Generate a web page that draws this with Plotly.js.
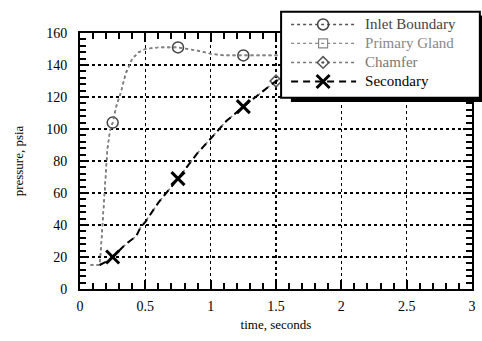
<!DOCTYPE html>
<html>
<head>
<meta charset="utf-8">
<script src="https://cdn.plot.ly/plotly-3.0.1.min.js"></script>
<style>
  html, body { margin: 0; padding: 0; background: #fff; }
  #chart { width: 482px; height: 341px; }
</style>
</head>
<body>
<div id="chart"></div>
<script>
// Pressure traces vs time (seconds)
const inletT = [0.08, 0.15, 0.16, 0.17, 0.19, 0.21, 0.23, 0.25, 0.28, 0.31, 0.35, 0.4, 0.45, 0.5, 0.6, 0.75, 0.9, 1.0, 1.1, 1.25, 1.5, 2.0, 2.5, 3.0];
const inletP = [15, 15, 25, 38, 66, 88, 99, 104, 115, 122, 135, 144, 148, 150, 151, 151, 149, 147, 146, 146, 146, 146, 146, 146];
const inletMarkT = [0.25, 0.75, 1.25, 1.75, 2.25, 2.75];
const inletMarkP = [104, 151, 146, 146, 146, 146];

const glandT = [0.08, 0.15, 0.16, 0.17, 0.19, 0.21, 0.23, 0.25, 0.28, 0.31, 0.35, 0.4, 0.45, 0.5, 0.6, 0.75, 0.9, 1.0, 1.1, 1.25, 1.5, 2.0, 2.5, 3.0];
const glandP = [15, 15, 24, 37, 65, 87, 99, 104, 114, 122, 134, 144, 148, 150, 151, 151, 149, 147, 146, 146, 146, 146, 146, 146];
const glandMarkT = [2.0, 2.5];
const glandMarkP = [146, 146];

const chamferT = [0.15, 0.2, 0.25, 0.3, 0.35, 0.43, 0.46, 0.5, 0.6, 0.75, 0.9, 1.0, 1.08, 1.12, 1.25, 1.5, 1.75, 2.0, 2.5, 3.0];
const chamferP = [15, 17, 20, 24, 28, 33, 38, 42, 54, 69, 85, 94, 101, 105, 114, 130, 140, 145, 148, 149];
const chamferMarkT = [1.5, 2.0, 2.5];
const chamferMarkP = [130, 145, 148];

const secT = [0.15, 0.2, 0.25, 0.3, 0.35, 0.43, 0.46, 0.5, 0.6, 0.75, 0.9, 1.0, 1.08, 1.12, 1.25, 1.5, 1.75, 2.0, 2.5, 3.0];
const secP = [15, 17, 20, 24, 28, 33, 38, 42, 54, 69, 85, 94, 101, 105, 114, 130, 140, 145, 148, 149];
const secMarkT = [0.25, 0.75, 1.25, 1.75, 2.25, 2.75];
const secMarkP = [20, 69, 114, 141, 147, 149];

const xTickVals = [0, 0.5, 1, 1.5, 2, 2.5, 3];
const xTickText = ['0', '0.5', '1', '1.5', '2', '2.5', '3'];
const yTickVals = [0, 20, 40, 60, 80, 100, 120, 140, 160];

const serif = 'Liberation Serif';

const series = [
  { name: 'Inlet Boundary', text: '#444', t: inletT, p: inletP, mt: inletMarkT, mp: inletMarkP,
    line: { color: '#555', width: 1.6, dash: 'dot' }, sym: 'circle-open', ms: 11, mc: '#444', mw: 1.5 },
  { name: 'Primary Gland', text: '#888', t: glandT, p: glandP, mt: glandMarkT, mp: glandMarkP,
    line: { color: '#888', width: 1.2, dash: 'dot' }, sym: 'square-open', ms: 9, mc: '#888', mw: 1.2 },
  { name: 'Chamfer', text: '#777', t: chamferT, p: chamferP, mt: chamferMarkT, mp: chamferMarkP,
    line: { color: '#777', width: 1.5, dash: 'dot' }, sym: 'diamond-open-dot', ms: 9, mc: '#555', mw: 1.5 },
  { name: 'Secondary', text: '#000', t: secT, p: secP, mt: secMarkT, mp: secMarkP,
    line: { color: '#000', width: 2, dash: '7px,5px' }, sym: 'x-thin-open', ms: 13, mc: '#000', mw: 3 }
];

const traces = [];
series.forEach(s => {
  traces.push({ x: s.t, y: s.p, type: 'scatter', mode: 'lines', line: s.line,
    showlegend: false, hoverinfo: 'skip' });
  traces.push({ x: s.mt, y: s.mp, type: 'scatter', mode: 'markers', showlegend: false,
    marker: { symbol: s.sym, size: s.ms, color: s.mc, line: { color: s.mc, width: s.mw } } });
  // legend entry: text size set on the span, row height driven by legend.font.size
  traces.push({ x: [null], y: [null], type: 'scatter', mode: 'lines+markers',
    name: '<span style="color:' + s.text + ';font-size:15px">' + s.name + '</span>',
    line: s.line,
    marker: { symbol: s.sym, size: s.ms, color: s.mc, line: { color: s.mc, width: s.mw } } });
});

const axisCommon = {
  showline: true, linecolor: '#000', linewidth: 2, mirror: 'ticks',
  ticks: 'inside', ticklen: 9, tickwidth: 2, tickcolor: '#000',
  showgrid: true, gridcolor: '#000', gridwidth: 1.5, griddash: 'dot',
  zeroline: false,
  tickfont: { family: serif, size: 14, color: '#000' }
};

const layout = {
  width: 482, height: 341,
  margin: { l: 80, r: 10, t: 26, b: 52 },
  paper_bgcolor: '#fff', plot_bgcolor: '#fff',
  font: { family: serif, color: '#000' },
  xaxis: Object.assign({}, axisCommon, {
    range: [0, 3], tickvals: xTickVals, ticktext: xTickText,
    minor: { dtick: 0.1, ticks: 'inside', ticklen: 6, tickwidth: 2, tickcolor: '#000', showgrid: false },
    ticklabelstandoff: 3,
    title: { text: 'time, seconds', font: { family: serif, size: 13, color: '#000' }, standoff: 7 }
  }),
  yaxis: Object.assign({}, axisCommon, {
    range: [0, 160], tickvals: yTickVals,
    minor: { dtick: 4, ticks: 'inside', ticklen: 6, tickwidth: 2, tickcolor: '#000', showgrid: false },
    ticklabelstandoff: 8,
    title: { text: 'pressure, psia', font: { family: serif, size: 13, color: '#000' }, standoff: 20 }
  }),
  legend: {
    x: 0.513, y: 1.09, xanchor: 'left', yanchor: 'top',
    bgcolor: 'rgba(0,0,0,0)', borderwidth: 0,
    font: { family: serif, size: 11.5, color: '#000' },
    itemwidth: 74, tracegroupgap: 0
  },
  // legend frame: drop shadow, then white box with black border
  shapes: [
    { type: 'rect', xref: 'paper', yref: 'paper', layer: 'above',
      x0: 0.538, x1: 1.031, y0: 0.730, y1: 1.068,
      fillcolor: '#000', line: { width: 0 } },
    { type: 'rect', xref: 'paper', yref: 'paper', layer: 'above',
      x0: 0.513, x1: 1.020, y0: 0.747, y1: 1.083,
      fillcolor: '#fff', line: { color: '#000', width: 2 } }
  ],
  showlegend: true
};

Plotly.newPlot('chart', traces, layout, { staticPlot: true }).then(gd => {
  // stretch legend sample lines across the item width, marker centred on them
  gd.querySelectorAll('.legend .legendlines path').forEach(p => p.setAttribute('d', 'M10,0h65'));
  gd.querySelectorAll('.legend .legendpoints path.scatterpts').forEach(p =>
    p.setAttribute('transform', 'translate(42,0)'));
});
</script>
</body>
</html>
